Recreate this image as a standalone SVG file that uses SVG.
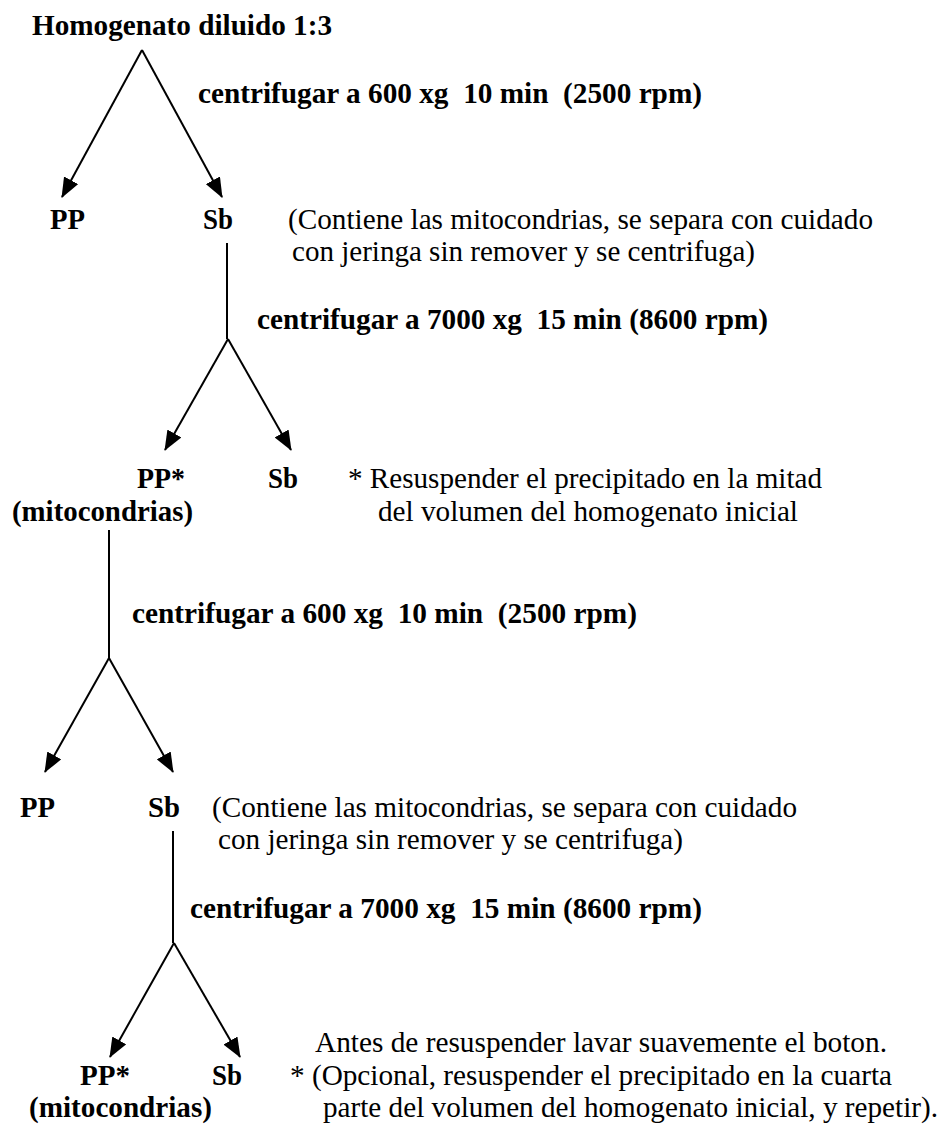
<svg xmlns="http://www.w3.org/2000/svg" width="943" height="1124" viewBox="0 0 943 1124">
<defs>
<style>
.b{font-family:"Liberation Serif","Times New Roman",serif;font-weight:bold;font-size:29px;fill:#000}
.l{font-family:"Liberation Serif","Times New Roman",serif;font-weight:bold;font-size:30px;fill:#000}
.r{font-family:"Liberation Serif","Times New Roman",serif;font-size:29px;fill:#000}
.c{stroke:#000;stroke-width:2;fill:none}
</style>
<marker id="ah" viewBox="0 0 20 16" refX="19" refY="8" markerWidth="20" markerHeight="16" markerUnits="userSpaceOnUse" orient="auto">
<path d="M0,0 L20,8 L0,16 z" fill="#000"/>
</marker>
</defs>
<rect width="943" height="1124" fill="#fff"/>
<g id="connectors">
<line class="c" x1="142" y1="50" x2="62" y2="197" marker-end="url(#ah)"/>
<line class="c" x1="142" y1="50" x2="222" y2="197" marker-end="url(#ah)"/>
<line class="c" x1="227" y1="243" x2="227" y2="339"/>
<line class="c" x1="228" y1="339" x2="165" y2="450" marker-end="url(#ah)"/>
<line class="c" x1="228" y1="339" x2="291" y2="450" marker-end="url(#ah)"/>
<line class="c" x1="109" y1="530" x2="109" y2="658"/>
<line class="c" x1="109" y1="658" x2="45" y2="772" marker-end="url(#ah)"/>
<line class="c" x1="109" y1="658" x2="173" y2="772" marker-end="url(#ah)"/>
<line class="c" x1="173" y1="831" x2="173" y2="943"/>
<line class="c" x1="174" y1="943" x2="110" y2="1057" marker-end="url(#ah)"/>
<line class="c" x1="174" y1="943" x2="240" y2="1057" marker-end="url(#ah)"/>
</g>
<g id="n-homogenato"><text class="b" x="32" y="35" textLength="300" lengthAdjust="spacingAndGlyphs">Homogenato diluido 1:3</text></g>
<g id="l-centrifugar1"><text class="b" x="198" y="103" textLength="504" lengthAdjust="spacingAndGlyphs" xml:space="preserve">centrifugar a 600 xg  10 min  (2500 rpm)</text></g>
<g id="n-pp1"><text class="l" x="50" y="229" textLength="35" lengthAdjust="spacingAndGlyphs">PP</text></g>
<g id="n-sb1"><text class="l" x="203" y="229" textLength="30" lengthAdjust="spacingAndGlyphs">Sb</text></g>
<g id="note1">
<text class="r" x="288" y="229" textLength="585" lengthAdjust="spacingAndGlyphs">(Contiene las mitocondrias, se separa con cuidado</text>
<text class="r" x="292" y="261" textLength="463" lengthAdjust="spacingAndGlyphs">con jeringa sin remover y se centrifuga)</text>
</g>
<g id="l-centrifugar2"><text class="b" x="257" y="329" textLength="511" lengthAdjust="spacingAndGlyphs" xml:space="preserve">centrifugar a 7000 xg  15 min (8600 rpm)</text></g>
<g id="n-pp2">
<text class="l" x="137" y="488" textLength="48" lengthAdjust="spacingAndGlyphs">PP*</text>
<text class="l" x="12" y="521" textLength="181" lengthAdjust="spacingAndGlyphs">(mitocondrias)</text>
</g>
<g id="n-sb2"><text class="l" x="268" y="488" textLength="30" lengthAdjust="spacingAndGlyphs">Sb</text></g>
<g id="note2">
<text class="r" x="348" y="488" textLength="474" lengthAdjust="spacingAndGlyphs">* Resuspender el precipitado en la mitad</text>
<text class="r" x="378" y="521" textLength="420" lengthAdjust="spacingAndGlyphs">del volumen del homogenato inicial</text>
</g>
<g id="l-centrifugar3"><text class="b" x="132" y="623" textLength="505" lengthAdjust="spacingAndGlyphs" xml:space="preserve">centrifugar a 600 xg  10 min  (2500 rpm)</text></g>
<g id="n-pp3"><text class="l" x="20" y="817" textLength="35" lengthAdjust="spacingAndGlyphs">PP</text></g>
<g id="n-sb3"><text class="l" x="148" y="817" textLength="32" lengthAdjust="spacingAndGlyphs">Sb</text></g>
<g id="note3">
<text class="r" x="212" y="817" textLength="585" lengthAdjust="spacingAndGlyphs">(Contiene las mitocondrias, se separa con cuidado</text>
<text class="r" x="218" y="849" textLength="465" lengthAdjust="spacingAndGlyphs">con jeringa sin remover y se centrifuga)</text>
</g>
<g id="l-centrifugar4"><text class="b" x="190" y="918" textLength="512" lengthAdjust="spacingAndGlyphs" xml:space="preserve">centrifugar a 7000 xg  15 min (8600 rpm)</text></g>
<g id="n-pp4">
<text class="l" x="80" y="1085" textLength="50" lengthAdjust="spacingAndGlyphs">PP*</text>
<text class="l" x="29" y="1117" textLength="183" lengthAdjust="spacingAndGlyphs">(mitocondrias)</text>
</g>
<g id="n-sb4"><text class="l" x="212" y="1085" textLength="30" lengthAdjust="spacingAndGlyphs">Sb</text></g>
<g id="note4">
<text class="r" x="315" y="1052" textLength="572" lengthAdjust="spacingAndGlyphs">Antes de resuspender lavar suavemente el boton.</text>
<text class="r" x="290" y="1085" textLength="602" lengthAdjust="spacingAndGlyphs">* (Opcional, resuspender el precipitado en la cuarta</text>
<text class="r" x="323" y="1117" textLength="615" lengthAdjust="spacingAndGlyphs">parte del volumen del homogenato inicial, y repetir).</text>
</g>
</svg>
